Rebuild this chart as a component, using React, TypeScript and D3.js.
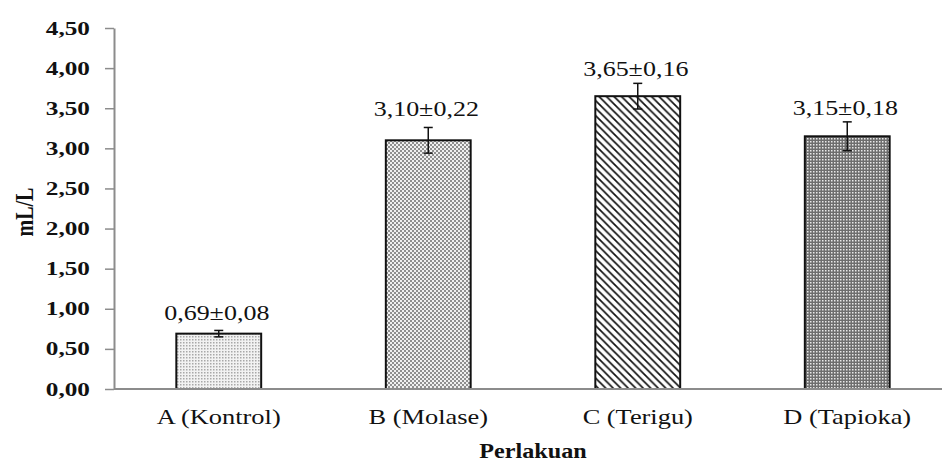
import React, { useEffect, useRef } from "react";
import * as d3 from "d3";

// data
const categories = ["A (Kontrol)", "B (Molase)", "C (Terigu)", "D (Tapioka)"];
const means = [0.69, 3.1, 3.65, 3.15];
const sdLabels = [0.08, 0.22, 0.16, 0.18]; // sd as printed in labels
const errDrawn = [0.04, 0.16, 0.16, 0.18]; // error bar half-lengths as drawn
const yTicks = [0, 0.5, 1, 1.5, 2, 2.5, 3, 3.5, 4, 4.5];
const patterns = ["patA", "patB", "patC", "patD"];

const fmt = (v: number) => v.toFixed(2).replace(".", ",");

const App = () => {
  const svgRef = useRef<SVGSVGElement>(null);

  useEffect(() => {
    const svg = d3.select(svgRef.current);
    svg.selectAll("*").remove();

    const width = 942;
    const height = 463;
    const left = 114;
    const bottom = 389;
    const top = 28;

    svg.attr("width", width).attr("height", height);

    const defs = svg.append("defs");
    // A: light dots
    const pA = defs.append("pattern").attr("id", "patA").attr("patternUnits", "userSpaceOnUse").attr("width", 3).attr("height", 3);
    pA.append("rect").attr("width", 3).attr("height", 3).attr("fill", "#f2f2f2");
    pA.append("rect").attr("width", 1.5).attr("height", 1.5).attr("fill", "#a8a8a8");
    // B: medium checker
    const pB = defs.append("pattern").attr("id", "patB").attr("patternUnits", "userSpaceOnUse").attr("width", 4).attr("height", 4);
    pB.append("rect").attr("width", 4).attr("height", 4).attr("fill", "#8f8f8f");
    pB.append("rect").attr("width", 2).attr("height", 2).attr("fill", "#f0f0f0");
    pB.append("rect").attr("x", 2).attr("y", 2).attr("width", 2).attr("height", 2).attr("fill", "#f0f0f0");
    // C: diagonal hatch
    const pC = defs.append("pattern").attr("id", "patC").attr("patternUnits", "userSpaceOnUse").attr("width", 7.5).attr("height", 7.5);
    pC.append("rect").attr("width", 7.5).attr("height", 7.5).attr("fill", "#fff");
    pC.append("path").attr("d", "M-2,-2 L9.5,9.5 M-2,5.5 L2,9.5 M5.5,-2 L9.5,2").attr("stroke", "#111").attr("stroke-width", 1.7);
    // D: dark checker
    const pD = defs.append("pattern").attr("id", "patD").attr("patternUnits", "userSpaceOnUse").attr("width", 3).attr("height", 3);
    pD.append("rect").attr("width", 3).attr("height", 3).attr("fill", "#6e6e6e");
    pD.append("rect").attr("width", 1.5).attr("height", 1.5).attr("fill", "#e8e8e8");

    const x = d3.scaleBand().domain(categories).range([left, 952]).padding(0);
    const y = d3.scaleLinear().domain([0, 4.5]).range([bottom, top]);
    const barW = x.bandwidth() * 0.405;
    const font = "'Liberation Serif', 'Times New Roman', serif";

    // y axis
    const yAxis = svg.append("g").attr("transform", `translate(${left},0)`)
      .call(d3.axisLeft(y).tickValues(yTicks).tickSize(9).tickSizeOuter(0).tickFormat(() => ""));
    yAxis.select(".domain").attr("stroke", "#8c8c8c").attr("stroke-width", 2);
    yAxis.selectAll(".tick line").attr("stroke", "#8c8c8c").attr("stroke-width", 1.5);

    svg.append("g").selectAll("text").data(yTicks).enter().append("text")
      .attr("transform", (d) => `translate(90,${y(d) + 6.5}) scale(1.33,1)`)
      .attr("text-anchor", "end")
      .style("font-family", font).style("font-size", "19px").style("font-weight", "bold")
      .attr("fill", "#111")
      .text((d) => fmt(d));

    // bars
    const g = svg.append("g");
    g.selectAll("rect").data(means).enter().append("rect")
      .attr("x", (d, i) => x(categories[i])! + x.bandwidth() / 2 - barW / 2)
      .attr("y", (d) => y(d))
      .attr("width", barW)
      .attr("height", (d) => bottom - y(d))
      .attr("fill", (d, i) => `url(#${patterns[i]})`)
      .attr("stroke", "#111")
      .attr("stroke-width", 2);

    // x axis line
    svg.append("line").attr("x1", left).attr("x2", width).attr("y1", bottom).attr("y2", bottom)
      .attr("stroke", "#8c8c8c").attr("stroke-width", 2);

    // error bars
    const eb = svg.append("g").attr("stroke", "#111").attr("stroke-width", 1.5);
    means.forEach((m, i) => {
      const cx = x(categories[i])! + x.bandwidth() / 2;
      const y1 = y(m + errDrawn[i]);
      const y2 = y(m - errDrawn[i]);
      eb.append("line").attr("x1", cx).attr("x2", cx).attr("y1", y1).attr("y2", y2);
      eb.append("line").attr("x1", cx - 4.5).attr("x2", cx + 4.5).attr("y1", y1).attr("y2", y1);
      eb.append("line").attr("x1", cx - 4.5).attr("x2", cx + 4.5).attr("y1", y2).attr("y2", y2);
    });

    // value labels
    svg.append("g").selectAll("text").data(means).enter().append("text")
      .attr("transform", (d, i) => `translate(${x(categories[i])! + x.bandwidth() / 2 - 2},${y(d + sdLabels[i]) - 7}) scale(1.3,1)`)
      .attr("text-anchor", "middle")
      .style("font-family", font).style("font-size", "20px")
      .attr("fill", "#111")
      .text((d, i) => `${fmt(d)}±${fmt(sdLabels[i])}`);

    // category labels
    svg.append("g").selectAll("text").data(categories).enter().append("text")
      .attr("transform", (d) => `translate(${x(d)! + x.bandwidth() / 2},424) scale(1.2,1)`)
      .attr("text-anchor", "middle")
      .style("font-family", font).style("font-size", "22px")
      .attr("fill", "#111")
      .text((d) => d);

    // axis titles
    svg.append("text")
      .attr("transform", `translate(533,458) scale(1.15,1)`)
      .attr("text-anchor", "middle")
      .style("font-family", font).style("font-size", "21px").style("font-weight", "bold")
      .attr("fill", "#111")
      .text("Perlakuan");

    svg.append("text")
      .attr("transform", `translate(33,212) scale(1.3,1) rotate(-90)`)
      .attr("text-anchor", "middle")
      .style("font-family", font).style("font-size", "20px").style("font-weight", "bold")
      .attr("fill", "#111")
      .text("mL/L");
  }, []);

  return (
    <div style={{ position: "absolute", left: 0, top: 0 }}>
      <svg ref={svgRef} style={{ display: "block", background: "#fff" }}></svg>
    </div>
  );
};

export default App;
